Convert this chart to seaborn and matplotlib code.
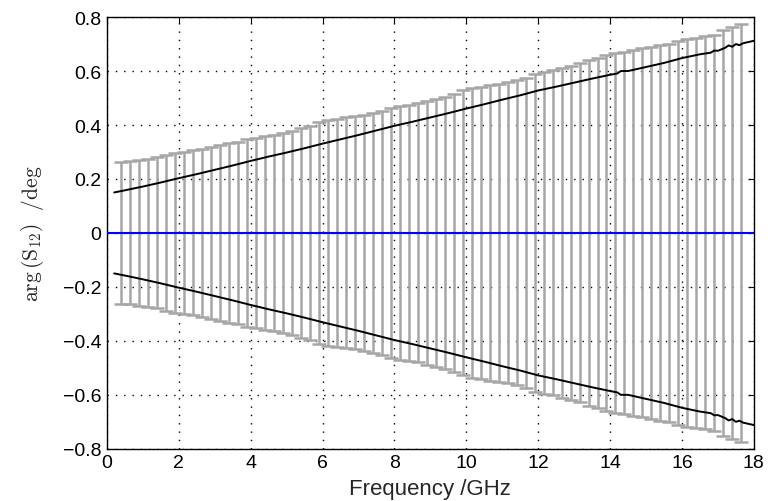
import matplotlib as mpl
mpl.use("Agg")
import matplotlib.pyplot as plt
import seaborn as sns
import pandas as pd
import numpy as np

# frecuencias de las barras de error (GHz) y su semiancho (deg)
BAR_F = [0.4, 0.65, 0.9, 1.15, 1.4, 1.65, 1.9, 2.15, 2.4, 2.65, 2.9, 3.15, 3.4, 3.65,
         3.9, 4.15, 4.4, 4.65, 4.9, 5.15, 5.4, 5.65, 5.9, 6.15, 6.4, 6.65, 6.9, 7.15,
         7.4, 7.65, 7.9, 8.15, 8.4, 8.65, 8.9, 9.15, 9.4, 9.65, 9.9, 10.15, 10.4, 10.65,
         10.9, 11.15, 11.4, 11.65, 11.9, 12.15, 12.4, 12.65, 12.9, 13.15, 13.4, 13.65,
         13.9, 14.15, 14.4, 14.65, 14.9, 15.15, 15.4, 15.65, 15.9, 16.15, 16.4, 16.65,
         16.9, 17.15, 17.4, 17.65]
BAR_ERR = [0.262, 0.265, 0.270, 0.275, 0.280, 0.288, 0.298, 0.300, 0.306, 0.310, 0.318,
           0.325, 0.332, 0.338, 0.348, 0.352, 0.358, 0.362, 0.370, 0.378, 0.388, 0.398,
           0.410, 0.418, 0.422, 0.428, 0.432, 0.438, 0.445, 0.452, 0.462, 0.470, 0.475,
           0.480, 0.488, 0.496, 0.505, 0.515, 0.528, 0.538, 0.542, 0.548, 0.552, 0.558,
           0.565, 0.575, 0.590, 0.598, 0.602, 0.610, 0.620, 0.628, 0.640, 0.650, 0.660,
           0.668, 0.672, 0.678, 0.684, 0.690, 0.696, 0.702, 0.712, 0.718, 0.722, 0.728,
           0.735, 0.752, 0.765, 0.775]

# curva negra superior (la inferior es simetrica)
LINE_F = [0.2, 0.5, 1.0, 1.5, 2.0, 2.5, 3.0, 3.5, 4.0, 4.5, 5.0, 5.5, 6.0, 6.5, 7.0,
          7.5, 8.0, 8.5, 9.0, 9.5, 10.0, 10.5, 11.0, 11.5, 12.0, 12.5, 13.0, 13.5,
          14.0, 14.2, 14.3, 14.5, 15.0, 15.5, 16.0, 16.5, 16.8, 16.9, 17.0, 17.2,
          17.3, 17.4, 17.5, 17.6, 17.7, 18.0]
LINE_V = [0.150, 0.158, 0.172, 0.187, 0.203, 0.218, 0.234, 0.250, 0.267, 0.283, 0.298,
          0.314, 0.331, 0.347, 0.363, 0.380, 0.397, 0.412, 0.428, 0.444, 0.461, 0.477,
          0.494, 0.510, 0.528, 0.542, 0.557, 0.572, 0.586, 0.591, 0.600, 0.600, 0.615,
          0.630, 0.648, 0.662, 0.668, 0.676, 0.675, 0.686, 0.695, 0.690, 0.700, 0.696,
          0.703, 0.712]
Y_TICKS = [-0.8, -0.6, -0.4, -0.2, 0, 0.2, 0.4, 0.6, 0.8]
Y_LABELS = ['\u22120.8', '\u22120.6', '\u22120.4', '\u22120.2', '0', '0.2', '0.4', '0.6', '0.8']

sns.set_style("white")
mpl.rcParams['font.family'] = ['Liberation Sans', 'DejaVu Sans']
mpl.rcParams['mathtext.fontset'] = 'cm'
mpl.rcParams['font.size'] = 14

up = pd.DataFrame({'f': LINE_F, 'v': LINE_V})
low = pd.DataFrame({'f': LINE_F, 'v': [-v for v in LINE_V]})
zero = pd.DataFrame({'f': [0, 18], 'v': [0, 0]})

fig = plt.figure(figsize=(7.84, 5.02), dpi=100)
ax = fig.add_axes([0.1365, 0.104, 0.825, 0.86])

ax.errorbar(BAR_F, np.zeros(len(BAR_F)), yerr=BAR_ERR, fmt='none', ecolor='#a6a6a6',
            elinewidth=1.8, capsize=5, capthick=1.8, zorder=2)
sns.lineplot(data=up, x='f', y='v', color='black', lw=1.4, ax=ax, zorder=3)
sns.lineplot(data=low, x='f', y='v', color='black', lw=1.4, ax=ax, zorder=3)
sns.lineplot(data=zero, x='f', y='v', color='#0000ff', lw=1.5, ax=ax, zorder=4)

ax.set_xlim(0, 18)
ax.set_ylim(-0.8, 0.8)
ax.set_xticks(np.arange(0, 19, 2))
ax.set_yticks(Y_TICKS)
ax.set_yticklabels(Y_LABELS)
ax.grid(True, linestyle=(0, (1, 5)), color='black', lw=1)
ax.tick_params(direction='in', top=True, right=True, length=4, width=0.8,
               labelsize=14, colors='black', pad=4)
for s in ax.spines.values():
    s.set_color('black')
    s.set_linewidth(1)

ax.set_xlabel('Frequency /GHz', fontsize=16, labelpad=5)
ax.set_ylabel(r'$\mathrm{arg}\,(\mathrm{S}_{12})\ \ /\mathrm{deg}$', fontsize=15.5, labelpad=12)

plt.savefig('out.png', dpi=100)
